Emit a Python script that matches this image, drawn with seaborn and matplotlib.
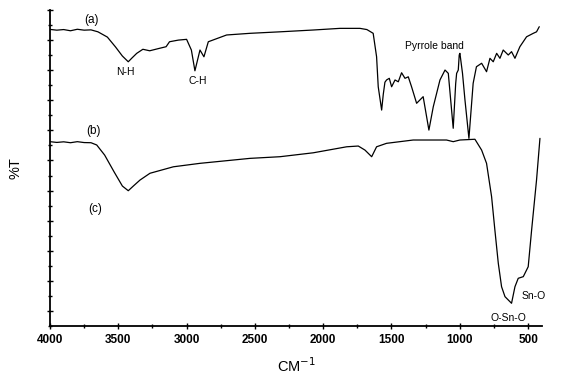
import numpy as np
import pandas as pd
import matplotlib
matplotlib.use("Agg")
import matplotlib.pyplot as plt
from matplotlib.ticker import FixedLocator, MultipleLocator
import seaborn as sns

# Spectrum (a): wavenumber (cm^-1) and transmittance (arbitrary units)
wn_a = [4000, 3950, 3900, 3850, 3800, 3750, 3700, 3649, 3580, 3520, 3470, 3427, 3400, 3365, 3320,
        3270, 3200, 3150, 3125, 3060, 3000, 2965, 2939, 2902, 2873, 2841, 2707, 2536, 2316,
        2073, 1877, 1731, 1680, 1634, 1609, 1597, 1572, 1560, 1548, 1536, 1516, 1499, 1474, 1450, 1426, 1401,
        1377, 1353, 1316, 1292, 1268, 1226, 1194, 1145, 1108, 1084, 1048, 1030, 1023, 1011, 1004,
        999, 980, 962, 933, 902, 878, 840, 804, 779, 755, 730, 706, 682, 645, 621, 596, 560,
        511, 462, 438, 418]
t_a = [19.71, 19.66, 19.70, 19.62, 19.72, 19.66, 19.68, 19.55, 19.2, 18.54, 17.94, 17.56, 17.81, 18.12, 18.39,
       18.29, 18.45, 18.56, 18.89, 19.0, 19.05, 18.34, 16.96, 18.34, 17.89, 18.89, 19.34, 19.45, 19.55,
       19.67, 19.78, 19.78, 19.70, 19.45, 17.89, 15.9, 14.35, 15.4, 16.2, 16.35, 16.46, 15.9, 16.35, 16.23, 16.83, 16.46,
       16.56, 15.9, 14.8, 15.02, 15.24, 13.02, 14.57, 16.35, 17.01, 16.79, 13.14, 16.1, 16.79, 17.01, 18.01,
       18.12, 16.79, 15.02, 12.47, 16.13, 17.23, 17.46, 16.9, 17.79, 17.56, 18.12, 17.79, 18.34, 18.01, 18.23, 17.79, 18.56,
       19.22, 19.45, 19.55, 19.89]

# Spectrum (b)/(c)
wn_b = [4000, 3950, 3900, 3850, 3800, 3750, 3700, 3658, 3600, 3530, 3470, 3427, 3390, 3341, 3268,
        3097, 2902, 2536, 2316, 2073, 1828, 1743, 1694, 1645, 1609, 1536, 1341, 1097, 1048,
        999, 889, 840, 804, 767, 743, 718, 694, 669, 621, 596, 572, 535, 499, 474, 438, 413]
t_b = [12.25, 12.20, 12.24, 12.18, 12.25, 12.19, 12.18, 12.03, 11.36, 10.23, 9.3, 8.99, 9.3, 9.7, 10.15,
       10.58, 10.81, 11.14, 11.25, 11.51, 11.91, 11.96, 11.69, 11.25, 11.91, 12.14, 12.36, 12.36, 12.25,
       12.36, 12.41, 11.69, 10.81, 8.59, 6.38, 4.17, 2.61, 1.95, 1.51, 2.61, 3.17, 3.28, 3.94, 6.38, 9.7, 12.47]

x_ticks = [4000, 3500, 3000, 2500, 2000, 1500, 1000, 500]

sns.set_style("ticks")
plt.rcParams['font.family'] = ['Liberation Sans', 'DejaVu Sans']
plt.rcParams['text.color'] = 'black'
plt.rcParams['axes.labelcolor'] = 'black'
plt.rcParams['xtick.color'] = 'black'
plt.rcParams['ytick.color'] = 'black'

fig = plt.figure(figsize=(5.64, 3.76), dpi=100)
ax = fig.add_axes([50/564, 50/376, 492/564, 316/376])

df_a = pd.DataFrame({"wn": wn_a, "t": t_a})
df_b = pd.DataFrame({"wn": wn_b, "t": t_b})
sns.lineplot(data=df_a, x="wn", y="t", sort=False, estimator=None, color="black", linewidth=0.9, ax=ax)
sns.lineplot(data=df_b, x="wn", y="t", sort=False, estimator=None, color="black", linewidth=0.9, ax=ax)

ax.set_xlim(4000, 398)
ax.set_ylim(0, 21)
ax.xaxis.set_major_locator(FixedLocator(x_ticks))
ax.xaxis.set_minor_locator(MultipleLocator(250))
ax.yaxis.set_major_locator(FixedLocator(list(range(1, 22, 2))))
ax.yaxis.set_minor_locator(FixedLocator(list(range(0, 22, 2))))
ax.set_yticklabels([])
ax.tick_params(axis='both', which='major', direction='inout', length=5, width=1, color='black')
ax.tick_params(axis='both', which='minor', direction='inout', length=3, width=1, color='black')
ax.tick_params(axis='x', labelsize=8.5, pad=3, labelcolor='black')
for lab in ax.get_xticklabels():
    lab.set_fontweight('bold')
for s in ['top', 'right']:
    ax.spines[s].set_visible(False)
for s in ['left', 'bottom']:
    ax.spines[s].set_linewidth(1.3)
    ax.spines[s].set_color('black')

ax.set_xlabel("CM$^{-1}$", fontsize=10.5, labelpad=8, color='black')
ax.set_ylabel("%T", fontsize=10.5, labelpad=14, color='black')

fs = 7.5
ax.text(3695, 20.33, "(a)", fontsize=8.5, ha='center', va='center', color='black')
ax.text(3685, 12.96, "(b)", fontsize=8.5, ha='center', va='center', color='black')
ax.text(3671, 7.75, "(c)", fontsize=8.5, ha='center', va='center', color='black')
ax.text(3451, 16.9, "N-H", fontsize=fs, ha='center', va='center', color='black')
ax.text(2917, 16.3, "C-H", fontsize=fs, ha='center', va='center', color='black')
ax.text(1182, 18.62, "Pyrrole band", fontsize=fs, ha='center', va='center', color='black')
ax.text(457, 2.0, "Sn-O", fontsize=fs, ha='center', va='center', color='black')
ax.text(647, 0.53, "O-Sn-O", fontsize=fs, ha='center', va='center', color='black')

fig.savefig("out.png", dpi=100)
